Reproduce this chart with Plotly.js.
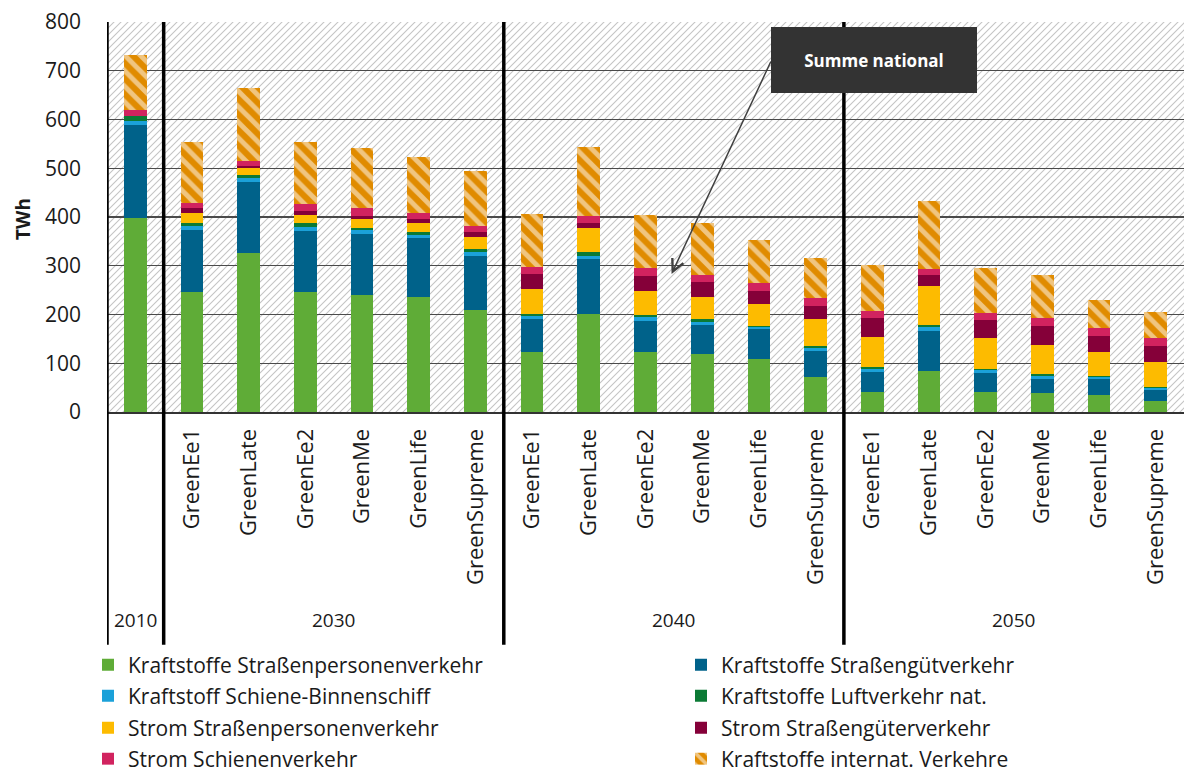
<!DOCTYPE html>
<html>
<head>
<meta charset="utf-8">
<script src="https://cdn.plot.ly/plotly-3.0.1.min.js"></script>
<style>html,body{margin:0;padding:0;background:#fff;}#chart{width:1184px;height:773px;}</style>
</head>
<body>
<div id="chart"></div>
<script>
// ---- data ----
const years = ['2010','2030','2030','2030','2030','2030','2030','2040','2040','2040','2040','2040','2040','2050','2050','2050','2050','2050','2050'];
const scenarios = ['', 'GreenEe1','GreenLate','GreenEe2','GreenMe','GreenLife','GreenSupreme',
                   'GreenEe1','GreenLate','GreenEe2','GreenMe','GreenLife','GreenSupreme',
                   'GreenEe1','GreenLate','GreenEe2','GreenMe','GreenLife','GreenSupreme'];
const groupLabels = ['2010','2030','2040','2050'];

const kraftPers   = [398, 247,326,247,240,235,209, 124,202,123,118.5,108,71, 41.5,85,41.5,39.5,35,23];
const kraftGuet   = [191, 126,146,125,124.5,121,111.5, 66,112,64,60,61.5,55, 40,81,37.5,29,32.5,21.5];
const kraftSchiene= [8, 8,7,8,8,8,7.5, 7,6.5,8,6.5,5.5,4.5, 6,7.5,7,5.5,5,4.5];
const kraftLuft   = [10, 7,7,7,4.5,4.5,5.5, 5,7,5,5,2,4, 4,5,3,4,1.5,1.5];
const stromPers   = [0, 19.5,13.5,17,18,18.5,26, 49.5,49.5,48,46.5,44,55.5, 63,80.5,63,59.5,48.5,51.5];
const stromGuet   = [0, 10.5,5.5,9,8,8,9, 31.5,11,31,31,28,27.5, 39,22,36.5,39,33,34];
const stromSchiene= [13, 11,10.5,14,15,14,13.5, 15,14,15.5,14.5,16,15.5, 14.5,12,15.5,15.5,17,16.5];
const kraftIntl   = [113, 125.5,148.5,126,123,115,113, 108,142,109,106,88,83.5, 93.5,140,92,89,57,53];

const seriesNames = ['Kraftstoffe Straßenpersonenverkehr','Kraftstoffe Straßengütverkehr',
  'Kraftstoff Schiene-Binnenschiff','Kraftstoffe Luftverkehr nat.',
  'Strom Straßenpersonenverkehr','Strom Straßengüterverkehr',
  'Strom Schienenverkehr','Kraftstoffe internat. Verkehre'];
const seriesValues = [kraftPers,kraftGuet,kraftSchiene,kraftLuft,stromPers,stromGuet,stromSchiene,kraftIntl];
const seriesColors = ['#5fac37','#00628a','#1ba1d9','#0b7a35','#fdbb00','#850039','#d1235f','#e08b00'];

// ---- build ----
const xIdx = scenarios.map((_, i) => i);
const FONT = 'Open Sans, sans-serif';
const legendIds = seriesNames.map((_, k) => k === 0 ? 'legend' : 'legend' + (k + 1));

const traces = seriesValues.map((vals, k) => {
  const t = {
    type: 'bar', name: seriesNames[k], x: xIdx, y: vals, width: 0.4,
    marker: {color: seriesColors[k], line: {width: 0}},
    legend: legendIds[k],
    hoverinfo: 'name+y'
  };
  if (k === 7) {
    t.marker.pattern = {shape: '\\', fgcolor: '#ffffff', bgcolor: seriesColors[k], size: 11, solidity: 0.45, fillmode: 'overlay'};
  }
  return t;
});

// group extents
const groups = groupLabels.map(g => {
  const idx = years.map((y, i) => y === g ? i : -1).filter(i => i >= 0);
  return {label: g, start: idx[0], end: idx[idx.length - 1]};
});

const shapes = [];
const boundaries = groups.map(g => g.start - 0.5);
for (let i = 0; i < scenarios.length - 1; i++) {
  const b = i + 0.5;
  if (boundaries.indexOf(b) >= 0) continue;
  shapes.push({type: 'line', xref: 'x', yref: 'y', x0: b, x1: b, y0: 0, y1: 800,
               line: {color: '#505050', width: 1.4}, layer: 'below'});
}
boundaries.forEach(b => {
  shapes.push({type: 'line', xref: 'x', yref: 'paper', x0: b, x1: b, y0: -0.597, y1: 1,
               line: {color: '#000000', width: 3.5}, layer: 'above'});
});

// hatched background
const W = 1077, H = 390;
const svg = `<svg xmlns="http://www.w3.org/2000/svg" width="${W}" height="${H}">` +
  `<defs><pattern id="p" patternUnits="userSpaceOnUse" width="7" height="7">` +
  `<path d="M-1,1 L1,-1 M0,7 L7,0 M6,8 L8,6" stroke="#c4c4c4" stroke-width="1.1"/></pattern></defs>` +
  `<rect width="${W}" height="${H}" fill="#ffffff"/><rect width="${W}" height="${H}" fill="url(#p)"/></svg>`;
const bgSrc = 'data:image/svg+xml;charset=utf-8,' + encodeURIComponent(svg);

const annotations = groups.map(g => ({
  text: g.label, xref: 'x', yref: 'paper', x: (g.start + g.end) / 2, y: -0.533,
  showarrow: false, font: {family: FONT, size: 19, color: '#1a1a1a'}, xanchor: 'center', yanchor: 'middle'
}));
annotations.push({
  text: '<b>TWh</b>', xref: 'paper', yref: 'paper', x: -0.078, y: 0.495, textangle: -90,
  showarrow: false, xanchor: 'center', yanchor: 'middle',
  font: {family: FONT, size: 19, color: '#1a1a1a'}
});
annotations.push({
  text: '', xref: 'x', yref: 'y', x: 9.46, y: 283, ax: 100, ay: -214,
  showarrow: true, arrowhead: 5, arrowsize: 1.6, arrowwidth: 1.5, arrowcolor: '#404040'
});
annotations.push({
  text: '<b>Summe national</b>', xref: 'paper', yref: 'paper', x: 0.712, y: 0.9026,
  xanchor: 'center', yanchor: 'middle', showarrow: false, width: 200, height: 60,
  bgcolor: '#333333', bordercolor: '#333333', borderwidth: 2,
  font: {family: FONT, size: 17, color: '#ffffff'}
});

const layout = {
  width: 1184, height: 773,
  margin: {l: 107, r: 0, t: 22, b: 361, autoexpand: false},
  paper_bgcolor: '#ffffff', plot_bgcolor: 'rgba(0,0,0,0)',
  barmode: 'stack',
  showlegend: true,
  xaxis: {range: [-0.5, scenarios.length - 0.5], tickmode: 'array', tickvals: xIdx, ticktext: scenarios,
          tickangle: -90, showgrid: false, zeroline: false, ticks: '', ticklabelstandoff: 6,
          tickfont: {family: FONT, size: 22, color: '#1a1a1a'},
          showline: true, linecolor: '#333333', linewidth: 2, fixedrange: true, automargin: false},
  yaxis: {range: [0, 800], dtick: 100, tick0: 0, showgrid: true, gridcolor: '#4a4a4a', gridwidth: 1.4,
          zeroline: false, ticks: '', ticklabelstandoff: 25,
          tickfont: {family: FONT, size: 21, color: '#1a1a1a'},
          showline: false, fixedrange: true, automargin: false},
  shapes: shapes,
  annotations: annotations,
  images: [{source: bgSrc, xref: 'x', yref: 'y', x: -0.5, y: 800, sizex: scenarios.length, sizey: 800,
            sizing: 'stretch', xanchor: 'left', yanchor: 'top', layer: 'below'}],
  font: {family: FONT}
};

// one single-item legend per entry, laid out in two columns of four rows
const colLeft = [88, 681], rowMid = [665, 696, 728, 759];
legendIds.forEach((id, k) => {
  layout[id] = {
    orientation: 'v', xref: 'container', yref: 'container', xanchor: 'left', yanchor: 'middle',
    x: colLeft[k % 2] / 1184, y: 1 - rowMid[Math.floor(k / 2)] / 773,
    font: {family: FONT, size: 21, color: '#1a1a1a'},
    itemclick: false, bgcolor: 'rgba(0,0,0,0)', borderwidth: 0
  };
});

Plotly.newPlot('chart', traces, layout, {displayModeBar: false, staticPlot: true});
</script>
</body>
</html>
